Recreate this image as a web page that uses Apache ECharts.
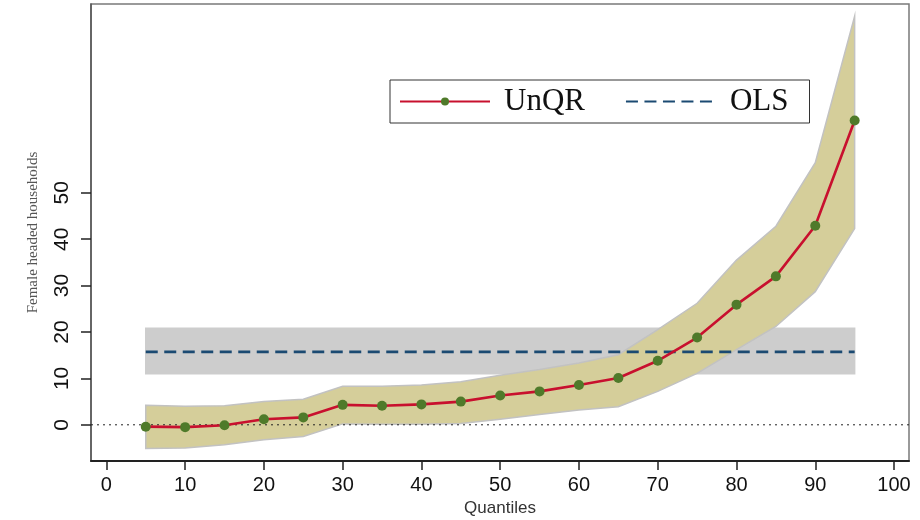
<!DOCTYPE html>
<html>
<head>
<meta charset="utf-8">
<script src="https://cdn.jsdelivr.net/npm/echarts@6/dist/echarts.min.js"></script>
<style>html,body{margin:0;padding:0;background:#fff}#c{width:920px;height:520px}</style>
</head>
<body>
<div id="c"></div>
<script>
const quantiles = [5,10,15,20,25,30,35,40,45,50,55,60,65,70,75,80,85,90,95];
const unqr      = [-0.4,-0.5,-0.1,1.2,1.6,4.3,4.1,4.4,5.0,6.3,7.2,8.6,10.1,13.8,18.8,25.9,32.0,42.9,65.6];
const ciUpper   = [4.2,4.0,4.1,5.0,5.5,8.3,8.3,8.6,9.3,10.7,11.9,13.3,15.1,20.5,26.2,35.5,42.8,56.5,88.1];
const ciLower   = [-5.1,-5.0,-4.3,-3.2,-2.5,0.2,0.1,0.1,0.3,1.2,2.2,3.2,3.9,7.2,11.1,16.2,21.2,28.7,42.3];
const olsX      = [5,95];
const olsEst    = 15.7;
const olsLower  = 11.0;
const olsUpper  = 20.8;
const xTicks    = [0,10,20,30,40,50,60,70,80,90,100];
const yTicks    = [0,10,20,30,40,50];
const xRange    = [-1.95,101.9];
const yRange    = [-7.8,90.7];

const chart = echarts.init(document.getElementById('c'), null, {renderer:'canvas'});

function bandRender(xs, lo, hi, fill, stroke) {
  return function(params, api) {
    if (params.dataIndex !== 0) return null;
    const pts = [];
    for (let i = 0; i < xs.length; i++) pts.push(api.coord([xs[i], hi[i]]));
    for (let i = xs.length - 1; i >= 0; i--) pts.push(api.coord([xs[i], lo[i]]));
    return {
      type: 'polygon',
      shape: {points: pts},
      style: {fill: fill, stroke: stroke, lineWidth: 1.5}
    };
  };
}

const olsLoArr = olsX.map(() => olsLower);
const olsHiArr = olsX.map(() => olsUpper);

const option = {
  animation: false,
  grid: {left: 91, top: 4, right: 11, bottom: 59, show: true, borderColor: '#7a7a7a', borderWidth: 1.5, outerBoundsMode: 'none', containLabel: false},
  legend: {
    left: 390, top: 80,
    padding: [6, 21, 6, 9],
    borderColor: '#333', borderWidth: 1,
    itemGap: 40, itemWidth: 90, itemHeight: 10,
    data: ['UnQR', {name: 'OLS', itemStyle: {color: 'rgba(0,0,0,0)', borderWidth: 0, opacity: 0}}],
    textStyle: {fontFamily: '"Liberation Serif", "DejaVu Serif", serif', fontSize: 31, color: '#111', padding: [0,0,0,9]}
  },
  xAxis: {
    type: 'value', min: xRange[0], max: xRange[1],
    name: 'Quantiles', nameLocation: 'middle', nameGap: 39,
    nameTextStyle: {fontFamily: 'Liberation Sans, Arial, sans-serif', fontSize: 17, color: '#333'},
    axisLine: {show: true, onZero: false, lineStyle: {color: '#222', width: 2}},
    axisTick: {show: true, length: 9, customValues: xTicks, lineStyle: {color: '#222', width: 1.5}},
    axisLabel: {customValues: xTicks, margin: 14, fontFamily: 'Liberation Sans, Arial, sans-serif', fontSize: 20, color: '#111'},
    splitLine: {show: false}
  },
  yAxis: {
    type: 'value', min: yRange[0], max: yRange[1],
    name: 'Female headed households', nameLocation: 'middle', nameGap: 50, nameRotate: 90,
    nameTextStyle: {fontFamily: '"Liberation Serif", "DejaVu Serif", serif', fontSize: 15, color: '#555'},
    axisLine: {show: true, onZero: false, lineStyle: {color: '#555', width: 1.5}},
    axisTick: {show: true, length: 10, customValues: yTicks, lineStyle: {color: '#222', width: 1.5}},
    axisLabel: {customValues: yTicks, rotate: 90, margin: 18, fontFamily: 'Liberation Sans, Arial, sans-serif', fontSize: 21, color: '#111'},
    splitLine: {show: false}
  },
  series: [
    {
      name: 'zero', type: 'line', silent: true, symbol: 'none',
      data: [[xRange[0], 0], [xRange[1], 0]],
      lineStyle: {color: '#222', width: 1, type: [2, 4]}
    },
    {
      name: 'olsband', type: 'custom', silent: true,
      renderItem: bandRender(olsX, olsLoArr, olsHiArr, '#cdcdcd', '#cdcdcd'),
      data: olsX.map((x, i) => [x, olsLoArr[i], olsHiArr[i]]),
      encode: {x: 0, y: [1, 2]}
    },
    {
      name: 'ciband', type: 'custom', silent: true,
      renderItem: bandRender(quantiles, ciLower, ciUpper, '#d5ce9a', '#c2c2c2'),
      data: quantiles.map((x, i) => [x, ciLower[i], ciUpper[i]]),
      encode: {x: 0, y: [1, 2]}
    },
    {
      name: 'OLS', type: 'line', symbol: 'none',
      data: olsX.map(x => [x, olsEst]),
      lineStyle: {color: '#1b4a72', width: 2.8, type: [12, 6.5]},
      itemStyle: {color: '#1b4a72'}
    },
    {
      name: 'UnQR', type: 'line', symbol: 'circle', symbolSize: 10,
      data: quantiles.map((x, i) => [x, unqr[i]]),
      lineStyle: {color: '#c8102e', width: 2.6},
      itemStyle: {color: '#4f7a2a'}
    }
  ]
};
chart.setOption(option);
</script>
</body>
</html>
